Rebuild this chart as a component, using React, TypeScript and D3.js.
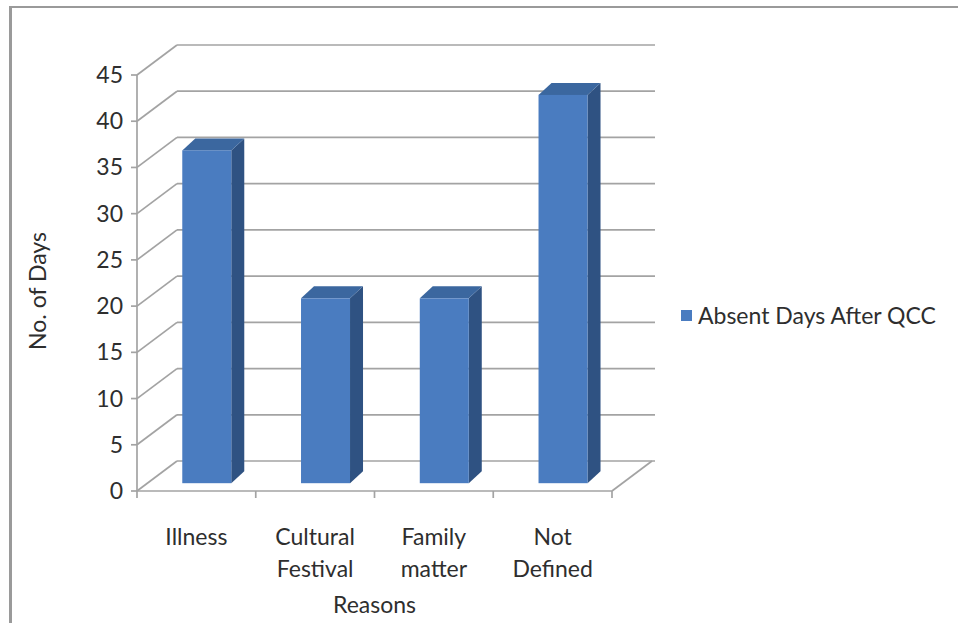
import React from "react";
import * as d3 from "d3";

const categories = [["Illness"], ["Cultural", "Festival"], ["Family", "matter"], ["Not", "Defined"]];
const values = [36, 20, 20, 42];
const yTicks = [0, 5, 10, 15, 20, 25, 30, 35, 40, 45];
const seriesName = "Absent Days After QCC";
const yTitle = "No. of Days";
const xTitle = "Reasons";

const W = 958;
const H = 623;
const FONT = "Lato, 'Open Sans', sans-serif";
const FS = 23;

export default function App() {
  const keys = categories.map((c) => c.join(" "));
  const x = d3.scaleBand<string>().domain(keys).range([137, 612]);
  const y = d3.scaleLinear().domain([0, 45]).range([491, 75]);
  const DX = 40;
  const DY = -30;
  const barFrac = 0.26;
  const bw = 49;
  const bdx = 13;
  const bdy = -12;
  const grid = "#a3a3a3";
  const txt = "#2e2e2e";

  return (
    <div style={{ position: "absolute", left: 0, top: 0 }}>
      <svg width={W} height={H} style={{ display: "block", background: "#fff" }}>
        {/* outer border */}
        <line x1={10.5} y1={6} x2={10.5} y2={H} stroke="#9a9a9a" strokeWidth={3} />
        <line x1={9} y1={7} x2={W} y2={7} stroke="#9a9a9a" strokeWidth={2} />

        {yTicks.map((t) => (
          <g key={t}>
            <line x1={x.range()[0] + DX} y1={y(t) + DY} x2={x.range()[1] + DX + 3} y2={y(t) + DY} stroke={grid} strokeWidth={1.7} />
            <line x1={x.range()[0]} y1={y(t)} x2={x.range()[0] + DX} y2={y(t) + DY} stroke={grid} strokeWidth={1.7} />
            <line x1={x.range()[0] - 6} y1={y(t)} x2={x.range()[0]} y2={y(t)} stroke={grid} strokeWidth={1.7} />
            <text x={123} y={y(t) + 8} textAnchor="end" fontFamily={FONT} fontSize={FS} fill={txt}>
              {t}
            </text>
          </g>
        ))}
        <line x1={x.range()[1]} y1={y(0)} x2={x.range()[1] + DX} y2={y(0) + DY} stroke={grid} strokeWidth={1.7} />
        <line x1={x.range()[0]} y1={y(45)} x2={x.range()[0]} y2={y(0)} stroke={grid} strokeWidth={1.7} />
        <line x1={x.range()[0]} y1={y(0)} x2={x.range()[1]} y2={y(0)} stroke={grid} strokeWidth={1.7} />
        {[...keys.map((k) => x(k) as number), x.range()[1]].map((px, i) => (
          <line key={i} x1={px} y1={y(0)} x2={px} y2={y(0) + 7} stroke={grid} strokeWidth={1.7} />
        ))}

        {keys.map((k, i) => {
          const cx = (x(k) as number) + x.bandwidth() / 2 + DX * barFrac;
          const x0 = cx - bw / 2;
          const x1 = cx + bw / 2;
          const yb = y(0) + DY * barFrac;
          const yt = y(values[i]) + DY * barFrac;
          return (
            <g key={k}>
              <polygon
                points={`${x1},${yt} ${x1 + bdx},${yt + bdy} ${x1 + bdx},${yb + bdy} ${x1},${yb}`}
                fill="#2f5282"
              />
              <polygon
                points={`${x0},${yt} ${x0 + bdx},${yt + bdy} ${x1 + bdx},${yt + bdy} ${x1},${yt}`}
                fill="#3b679f"
              />
              <rect x={x0} y={yt} width={bw} height={yb - yt} fill="#4a7cc0" />
            </g>
          );
        })}

        {categories.map((lines, i) => {
          const cx = (x(keys[i]) as number) + x.bandwidth() / 2;
          return (
            <text key={i} x={cx} textAnchor="middle" fontFamily={FONT} fontSize={FS} fill={txt}>
              {lines.map((l, j) => (
                <tspan key={j} x={cx} y={545 + j * 32}>
                  {l}
                </tspan>
              ))}
            </text>
          );
        })}

        <text x={(x.range()[0] + x.range()[1]) / 2} y={613} textAnchor="middle" fontFamily={FONT} fontSize={FS} fill={txt}>
          {xTitle}
        </text>
        <text transform="translate(46,291) rotate(-90)" textAnchor="middle" fontFamily={FONT} fontSize={FS} fill={txt}>
          {yTitle}
        </text>

        <rect x={681} y={310} width={11} height={11} fill="#4a7cc0" />
        <text x={698} y={324} fontFamily={FONT} fontSize={FS} fill={txt}>
          {seriesName}
        </text>
      </svg>
    </div>
  );
}
